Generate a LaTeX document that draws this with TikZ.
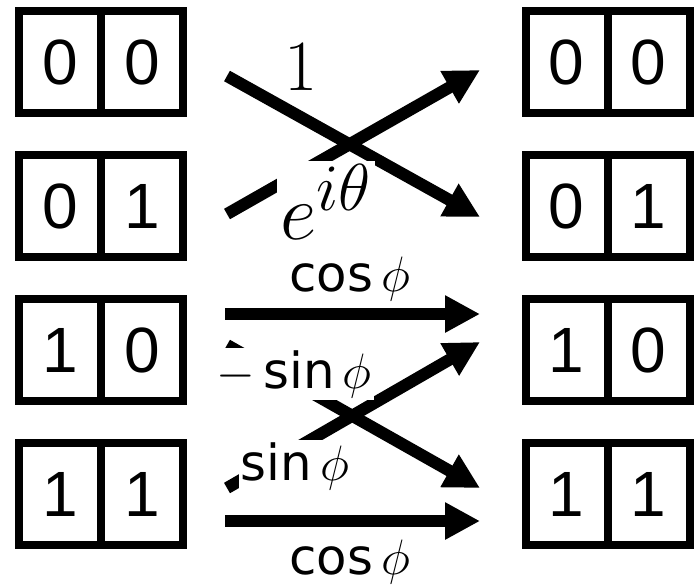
\documentclass[tikz,border=0pt]{standalone}
\usepackage{amsmath}
\usepackage{fontspec}
\setsansfont{DejaVu Sans}
\newfontfamily\digitfont{Liberation Sans}
\usepackage{tikz}
\usetikzlibrary{positioning,arrows.meta,calc}

\begin{document}
\begin{tikzpicture}[x=0.5pt,y=-0.5pt,
  cell/.style={draw,line width=4pt,outer sep=0pt,inner sep=0pt,
    minimum width=41pt,minimum height=51pt,
    font=\digitfont\fontsize{32}{32}\selectfont},
  amp/.style={line width=6pt,-{Triangle[length=17.5pt,width=17.5pt]}},
  lbl/.style={fill=white,inner sep=1pt,font=\fontsize{24.88}{26}\selectfont}]
\useasboundingbox (0,0) rectangle (694,586);
% Input and output states
\foreach \a/\b [count=\i from 0] in {0/0,0/1,1/0,1/1} {
  \node[cell] (L\a\b) at (60,62+144*\i) {\a};
  \node[cell,right=0pt of L\a\b] (L\a\b r) {\b};
  \node[cell] (R\a\b) at (566.5,62+144*\i) {\a};
  \node[cell,right=0pt of R\a\b] (R\a\b r) {\b};
}
% Arrow ends
\coordinate (out00) at (227,76);
\coordinate (out01) at (227,214);
\coordinate (in00) at (480,70);
\coordinate (in01) at (480,217);
\coordinate (out10a) at (225,314);
\coordinate (out10b) at (227,345);
\coordinate (out11a) at (227,488);
\coordinate (out11b) at (225,521);
\coordinate (in10a) at (480,314);
\coordinate (in10b) at (480,342);
\coordinate (in11a) at (480,488);
\coordinate (in11b) at (480,521);
% Swap with phase
\draw[amp] (out00) -- (in01);
\draw[amp] (out01) -- (in00);
% Rotation
\draw[amp] (out10a) -- (in10a);
\draw[amp] (out10b) -- (in11a);
\draw[amp] (out11a) -- (in10b);
\draw[amp] (out11b) -- (in11b);
% Amplitudes
\node[lbl,scale=1.45] (one) at (301,67) {$1$};
\node[lbl,scale=1.6] (phase) at (326,202) {$e^{i\theta}$};
\node[lbl] (cosA) at (350,279) {$\textsf{cos}\,\phi$};
\node[lbl] (msin) at (294,374) {$-\,\textsf{sin}\,\phi$};
\node[lbl] (psin) at (295,466) {$\textsf{sin}\,\phi$};
\node[lbl] (cosB) at (350,562) {$\textsf{cos}\,\phi$};
\end{tikzpicture}
\end{document}
